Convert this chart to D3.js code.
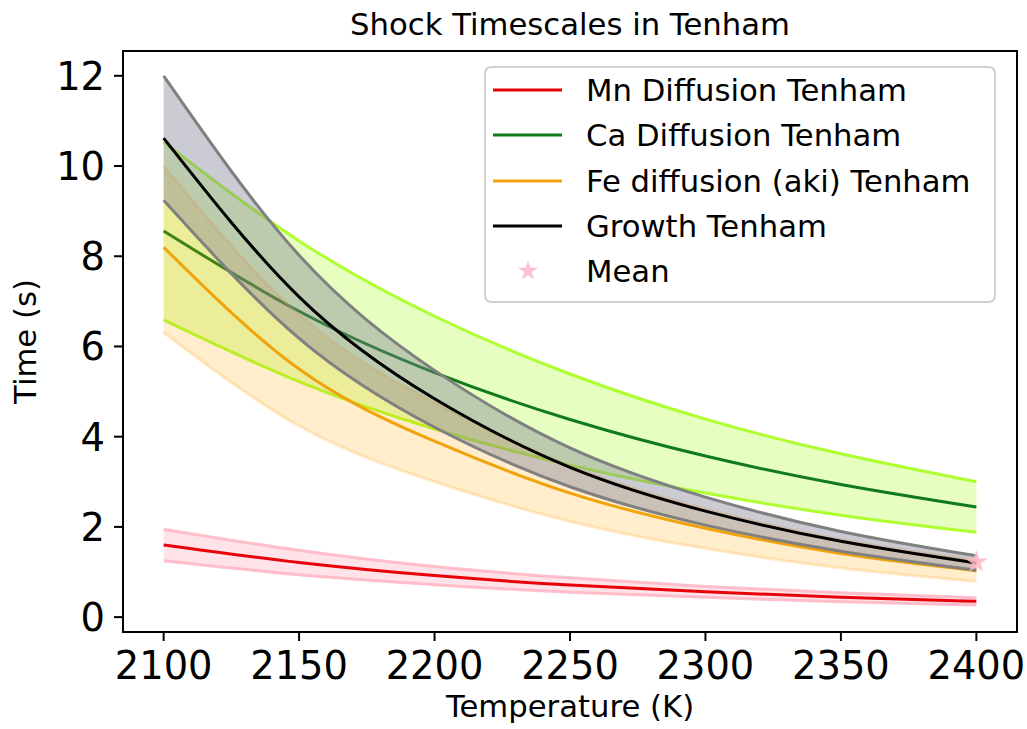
<!DOCTYPE html>
<html>
<head>
<meta charset="utf-8">
<script src="https://cdn.jsdelivr.net/npm/d3@7"></script>
<style>
  body { margin: 0; background: #fff; }
  svg { display: block; }
  text { font-family: "DejaVu Sans", sans-serif; fill: #000; }
</style>
</head>
<body>
<svg id="chart" width="1027" height="729"></svg>
<script>
// ---- data ----
const temperatures = [2100, 2150, 2200, 2250, 2300, 2350, 2400];

const mnMean  = [1.60, 1.21, 0.92, 0.71, 0.56, 0.44, 0.35];
const mnUpper = [1.95, 1.48, 1.12, 0.87, 0.68, 0.54, 0.43];
const mnLower = [1.25, 0.94, 0.72, 0.55, 0.44, 0.34, 0.27];

const caMean  = [8.56, 6.78, 5.42, 4.38, 3.57, 2.94, 2.44];
const caUpper = [10.53, 8.34, 6.67, 5.39, 4.39, 3.62, 3.00];
const caLower = [6.59, 5.22, 4.17, 3.37, 2.75, 2.26, 1.88];

const feMean  = [8.20, 5.50, 3.90, 2.75, 1.97, 1.41, 1.03];
const feUpper = [10.00, 6.71, 4.76, 3.36, 2.40, 1.72, 1.26];
const feLower = [6.31, 4.24, 3.00, 2.12, 1.52, 1.09, 0.79];

const growthMean  = [10.62, 7.10, 4.84, 3.32, 2.35, 1.68, 1.20];
const growthUpper = [12.00, 8.02, 5.47, 3.75, 2.66, 1.90, 1.36];
const growthLower = [9.24, 6.18, 4.21, 2.89, 2.04, 1.46, 1.04];

const meanPointT = [2400];
const meanPointV = [1.22];

const xTicks = [2100, 2150, 2200, 2250, 2300, 2350, 2400];
const yTicks = [0, 2, 4, 6, 8, 10, 12];

const legendLabels = ["Mn Diffusion Tenham", "Ca Diffusion Tenham", "Fe diffusion (aki) Tenham", "Growth Tenham", "Mean"];

// ---- layout ----
const svg = d3.select("#chart");
const L = 123, R = 1017, T = 51, B = 632;
const x = d3.scaleLinear().domain([2085, 2415]).range([L, R]);
const y = d3.scaleLinear().domain([-0.33, 12.55]).range([B, T]);

const series = [
  { mean: mnMean, up: mnUpper, lo: mnLower, line: "#e8000b", fill: "#ffc0cb", fillOp: 0.45, edge: "#ffb0c0", edgeOp: 0.8 },
  { mean: caMean, up: caUpper, lo: caLower, line: "#117a1a", fill: "#adff2f", fillOp: 0.3, edge: "#adff2f", edgeOp: 1 },
  { mean: feMean, up: feUpper, lo: feLower, line: "#f0a30a", fill: "#ffa500", fillOp: 0.2, edge: "#ffb850", edgeOp: 0.3 },
  { mean: growthMean, up: growthUpper, lo: growthLower, line: "#000000", fill: "#7c7c94", fillOp: 0.4, edge: "#808080", edgeOp: 1 }
];

const curve = d3.curveNatural;
const lineGen = d3.line().x((d, i) => x(temperatures[i])).y(d => y(d)).curve(curve);
const g = svg.append("g");

series.forEach(s => {
  const area = d3.area()
    .x((d, i) => x(temperatures[i]))
    .y0((d, i) => y(s.lo[i]))
    .y1((d, i) => y(s.up[i]))
    .curve(curve);
  g.append("path").attr("d", area(s.mean)).attr("fill", s.fill).attr("fill-opacity", s.fillOp);
  [s.up, s.lo].forEach(arr => {
    g.append("path").attr("d", lineGen(arr)).attr("fill", "none")
      .attr("stroke", s.edge).attr("stroke-opacity", s.edgeOp).attr("stroke-width", 3);
  });
  g.append("path").attr("d", lineGen(s.mean)).attr("fill", "none")
    .attr("stroke", s.line).attr("stroke-width", 3);
});

// mean star
const star = d3.symbol().type(d3.symbolStar).size(160);
const legendStar = d3.symbol().type(d3.symbolStar).size(120);
meanPointT.forEach((t, i) => {
  g.append("path").attr("d", star()).attr("transform", `translate(${x(t)},${y(meanPointV[i])})`)
    .attr("fill", "#ffb6c8").attr("fill-opacity", 0.85);
});

// spines
svg.append("rect").attr("x", L).attr("y", T).attr("width", R - L).attr("height", B - T)
  .attr("fill", "none").attr("stroke", "#000").attr("stroke-width", 2);

// axes ticks
const tickLen = 9;
xTicks.forEach(t => {
  svg.append("line").attr("x1", x(t)).attr("x2", x(t)).attr("y1", B).attr("y2", B + tickLen)
    .attr("stroke", "#000").attr("stroke-width", 2);
  svg.append("text").attr("x", x(t)).attr("y", B + 47).attr("text-anchor", "middle")
    .attr("font-size", 38.4).text(t);
});
yTicks.forEach(t => {
  svg.append("line").attr("x1", L - tickLen).attr("x2", L).attr("y1", y(t)).attr("y2", y(t))
    .attr("stroke", "#000").attr("stroke-width", 2);
  svg.append("text").attr("x", L - tickLen - 9).attr("y", y(t)).attr("dy", "0.36em")
    .attr("text-anchor", "end").attr("font-size", 38.4).text(t);
});

// labels
svg.append("text").attr("x", (L + R) / 2).attr("y", 35).attr("text-anchor", "middle")
  .attr("font-size", 30.7).text("Shock Timescales in Tenham");
svg.append("text").attr("x", (L + R) / 2).attr("y", 717).attr("text-anchor", "middle")
  .attr("font-size", 30.7).text("Temperature (K)");
svg.append("text").attr("transform", `translate(36,${(T + B) / 2}) rotate(-90)`)
  .attr("text-anchor", "middle").attr("font-size", 30.7).text("Time (s)");

// legend
const lg = svg.append("g");
lg.append("rect").attr("x", 485).attr("y", 67).attr("width", 510).attr("height", 235)
  .attr("rx", 6).attr("fill", "#fff").attr("fill-opacity", 0.8)
  .attr("stroke", "#d0d0d0").attr("stroke-width", 2);
const rowY = [90, 135, 181, 226, 271];
legendLabels.forEach((lab, i) => {
  if (i < 4) {
    lg.append("line").attr("x1", 493).attr("x2", 562).attr("y1", rowY[i]).attr("y2", rowY[i])
      .attr("stroke", series[i].line).attr("stroke-width", 3);
  } else {
    lg.append("path").attr("d", legendStar()).attr("transform", `translate(528,${rowY[i]})`)
      .attr("fill", "#ffb6c8").attr("fill-opacity", 0.85);
  }
  lg.append("text").attr("x", 586).attr("y", rowY[i]).attr("dy", "0.36em")
    .attr("font-size", 30.7).text(lab);
});
</script>
</body>
</html>
